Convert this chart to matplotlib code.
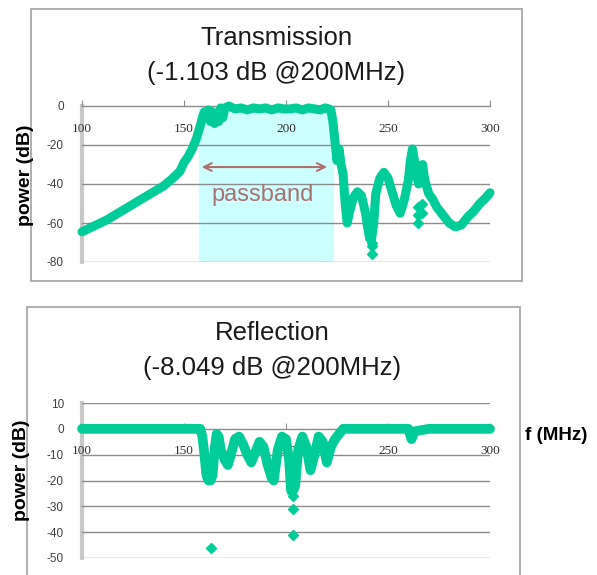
import matplotlib.pyplot as plt
from matplotlib.patches import Rectangle

# ---- data ----
t_freq = [100, 104, 108, 112, 116, 120, 124, 128, 132, 136, 140, 144, 148, 150,
          152, 154, 156, 158, 159, 160, 161, 162, 163, 164, 165, 166, 167, 168,
          169, 170, 172, 175, 178, 181, 184, 187, 190, 193, 196, 199, 202, 205,
          208, 211, 214, 217, 219, 221, 222, 223, 224, 225, 226, 227, 228, 229,
          230, 231, 233, 235, 237, 239, 240, 241, 242, 243, 244, 246, 248, 250,
          252, 254, 256, 258, 260, 261, 262, 263, 264, 265, 266, 267, 268, 270,
          272, 274, 277, 280, 283, 286, 289, 292, 295, 298, 300]
t_db = [-64.5, -62.5, -60.5, -58.5, -56, -53.5, -51, -48.5, -46, -43.5, -41,
        -37.5, -33.5, -29, -26, -22, -17, -10, -6, -3, -6, -2, -8, -3, -9, -4,
        -8, -1, -6, -1, 0, -1.5, -1, -2, -1, -1.5, -1, -2, -1, -1.5, -1.5,
        -1, -2, -1, -1.5, -2, -1, -1.5, -2, -8, -18, -28, -22, -30, -35,
        -50, -60, -55, -47, -44, -46, -55, -62, -68, -68, -60, -45, -37, -34,
        -37, -44, -51, -55, -48, -38, -28, -22, -28, -35, -40, -32, -30, -38,
        -45, -48, -52, -56, -60, -62, -61, -57, -54, -50, -47, -44.5]
# isolated points below the trace
t_spike_freq = [242, 242, 242, 264.5, 264.5, 264.5, 266.5, 266.5]
t_spike_db = [-70, -72, -76, -52, -56, -60, -50, -55]

r_freq = [100, 110, 120, 130, 140, 150, 155, 158, 159, 160, 161, 162, 163,
          164, 165, 166, 167, 168, 170, 171.5, 173, 175, 177, 179, 181, 183,
          185, 187, 189, 191, 193, 194, 196, 198, 200, 201.5, 202.5, 203.5,
          204.5, 206, 208, 210, 212, 214, 216, 218, 220, 222, 224, 226, 228,
          240, 250, 260, 261.5, 263, 270, 280, 290, 300]
r_db = [0, 0, 0, 0, 0, 0, 0, 0, -3, -10, -18, -20, -20, -18, -8, -2, -3, -8,
        -12, -14, -10, -4, -3, -6, -10, -13, -9, -5, -7, -14, -19, -20, -8, -3,
        -4, -12, -24, -24, -22, -8, -3, -7, -16, -10, -3, -5, -13, -7, -4, -2,
        0, 0, 0, 0, -4, -1, 0, 0, 0, 0]
r_spike_freq = [163, 203.5, 203.5, 203.5]
r_spike_db = [-46, -26, -31, -41]

x_ticks = [100, 150, 200, 250, 300]
t_yticks = [0, -20, -40, -60, -80]
r_yticks = [10, 0, -10, -20, -30, -40, -50]
passband = (157.3, 223)

GREEN = '#00cc99'
GRID = '#8c8c8c'

fig = plt.figure(figsize=(5.97, 5.75), dpi=100)
W, H = 597, 575

def fig_box(x0, y0, x1, y1):
    return [x0 / W, 1 - y1 / H, (x1 - x0) / W, (y1 - y0) / H]

# outer chart frames
for (x0, y0, x1, y1) in [(31, 9, 522, 281), (27, 307, 520, 585)]:
    fig.patches.append(Rectangle((x0 / W, 1 - y1 / H), (x1 - x0) / W, (y1 - y0) / H,
                                 transform=fig.transFigure, fill=False,
                                 edgecolor='#a8a8a8', lw=1.3))

def style_axes(ax, yticks, ylim):
    ax.set_xlim(100, 300)
    ax.set_ylim(*ylim)
    ax.set_facecolor('none')
    for s in ['top', 'right']:
        ax.spines[s].set_visible(False)
    ax.spines['left'].set_color('#c8c8c8')
    ax.spines['left'].set_linewidth(3)
    ax.spines['left'].set_zorder(0.5)
    ax.spines['bottom'].set_position(('data', 0))
    ax.spines['bottom'].set_color(GRID)
    ax.spines['bottom'].set_linewidth(1)
    ax.spines['bottom'].set_zorder(1)
    ax.set_yticks(yticks)
    ax.set_yticklabels([str(v) for v in yticks], fontsize=8.5, color='#404040',
                       family='Liberation Sans')
    ax.tick_params(axis='y', length=0, pad=13)
    ax.set_xticks(x_ticks)
    ax.set_xticklabels([str(v) for v in x_ticks], fontsize=9.5, color='#303030',
                       family='Liberation Serif')
    ax.tick_params(axis='x', direction='in', length=4, color=GRID, pad=12)
    for v in yticks:
        if v != 0:
            ax.axhline(v, color=GRID, lw=1, zorder=1)

# ---- transmission ----
ax1 = fig.add_axes(fig_box(82, 106, 490, 262))
style_axes(ax1, t_yticks, (-80, 0))
ax1.axvspan(passband[0], passband[1], color='#ccffff', zorder=0)
ax1.plot(t_freq, t_db, color=GREEN, lw=6.5, solid_joinstyle='round',
         solid_capstyle='round', zorder=3, clip_on=False)
ax1.plot(t_spike_freq, t_spike_db, 'D', color=GREEN, ms=5.5, zorder=3, clip_on=False)
ax1.annotate('', xy=(passband[0], -31.3), xytext=(passband[1] - 1.5, -31.3),
             arrowprops=dict(arrowstyle='<->', color='#b07070', lw=1.5,
                             mutation_scale=14), zorder=4)
ax1.text(sum(passband) / 2 - 1.5, -45.5, 'passband', ha='center', va='center',
         fontsize=17, color='#a87070', family='Liberation Sans', zorder=4)

fig.text(276 / W, 1 - 38 / H, 'Transmission', ha='center', va='center',
         fontsize=18.5, family='Liberation Sans', color='#1a1a1a')
fig.text(276 / W, 1 - 73 / H, '(-1.103 dB @200MHz)', ha='center', va='center',
         fontsize=18.5, family='Liberation Sans', color='#1a1a1a')
fig.text(25 / W, 1 - 175 / H, 'power (dB)', rotation=90, ha='center', va='center',
         fontsize=14, fontweight='bold', family='Liberation Sans')

# ---- reflection ----
ax2 = fig.add_axes(fig_box(82, 403, 490, 558))
style_axes(ax2, r_yticks, (-50, 10))
ax2.plot(r_freq, r_db, color=GREEN, lw=7, solid_joinstyle='round',
         solid_capstyle='round', zorder=3, clip_on=False)
ax2.plot(r_spike_freq, r_spike_db, 'D', color=GREEN, ms=5.5, zorder=3, clip_on=False)

fig.text(272 / W, 1 - 333 / H, 'Reflection', ha='center', va='center',
         fontsize=18.5, family='Liberation Sans', color='#1a1a1a')
fig.text(272 / W, 1 - 368 / H, '(-8.049 dB @200MHz)', ha='center', va='center',
         fontsize=18.5, family='Liberation Sans', color='#1a1a1a')
fig.text(22 / W, 1 - 470 / H, 'power (dB)', rotation=90, ha='center', va='center',
         fontsize=14, fontweight='bold', family='Liberation Sans')
fig.text(556 / W, 1 - 435 / H, 'f (MHz)', ha='center', va='center',
         fontsize=13.5, fontweight='bold', family='Liberation Sans')

fig.savefig('out.png', dpi=100)
